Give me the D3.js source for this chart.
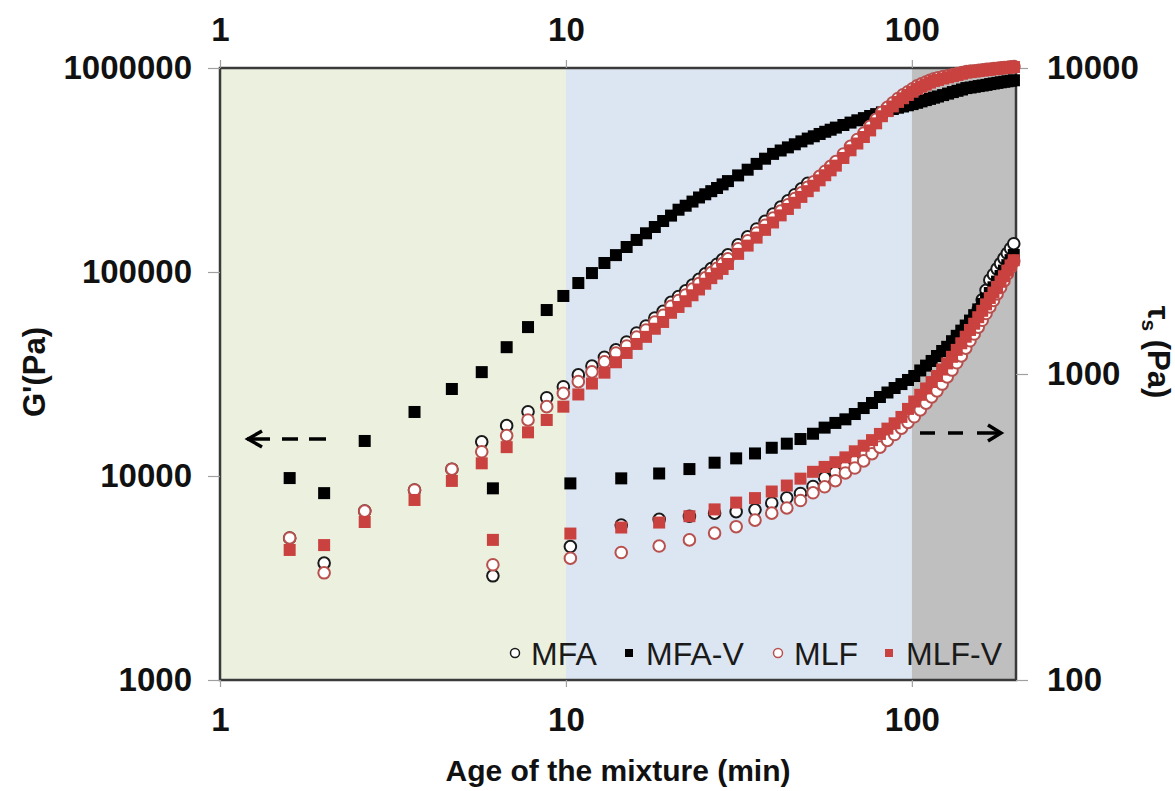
<!DOCTYPE html>
<html><head><meta charset="utf-8">
<script src="https://cdn.jsdelivr.net/npm/d3@7"></script>
<style>body{margin:0;background:#fff}text{font-family:"Liberation Sans",Arial,sans-serif}</style>
</head><body>
<svg id="c" width="1175" height="791"></svg>
<script>
// ---- data ----
const xTicks = [1, 10, 100];
const gTicks = [1000, 10000, 100000, 1000000];
const tauTicks = [100, 1000, 10000];
const legendLabels = ["MFA", "MFA-V", "MLF", "MLF-V"];
const zoneBounds = [[1, 10], [10, 100], [100, 200]];
const zoneColors = ["#ebf1de", "#dce6f2", "#bfbfbf"];

// shear stress (right axis) sampling times, min
const tauTimes = [2.0, 6.15, 10.3, 14.45, 18.6, 22.75, 26.9, 31.05, 35.2, 39.35, 43.5, 47.65, 51.8, 55.95, 60.1, 64.25, 68.4, 72.55, 76.7, 80.85, 85.0, 89.15, 93.3, 97.45, 101.6, 105.75, 109.9, 114.05, 118.2, 122.35, 126.5, 130.65, 134.8, 138.95, 143.1, 147.25, 151.4, 155.55, 159.7, 163.85, 168.0, 172.15, 176.3, 180.45, 184.6, 188.75, 192.9, 197.05];
const mfaTau = [241, 219, 273, 321, 335, 343, 351, 355, 360, 379, 394, 407, 429, 458, 477, 498, 519, 544, 569, 595, 623, 651, 684, 719, 754, 791, 828, 866, 914, 965, 1020, 1087, 1152, 1219, 1296, 1400, 1505, 1624, 1747, 1877, 2029, 2115, 2206, 2295, 2388, 2480, 2571, 2666];
const mfavTau = [408, 423, 439, 456, 473, 489, 513, 530, 550, 574, 592, 613, 638, 668, 692, 711, 740, 774, 804, 841, 870, 900, 927, 956, 985, 1027, 1065, 1103, 1145, 1189, 1227, 1280, 1333, 1386, 1440, 1495, 1557, 1626, 1695, 1767, 1839, 1920, 2004, 2091, 2177, 2268, 2356, 2448];
const mlfTau = [224, 238, 250, 261, 274, 287, 302, 317, 333, 351, 365, 386, 409, 428, 448, 475, 493, 520, 549, 577, 607, 634, 665, 695, 725, 763, 803, 842, 881, 927, 978, 1030, 1088, 1146, 1214, 1284, 1351, 1423, 1498, 1576, 1656, 1739, 1827, 1917, 2014, 2123, 2227, 2337];
const mlfvTau = [276, 287, 301, 315, 327, 343, 361, 380, 393, 413, 432, 455, 479, 497, 515, 534, 559, 583, 608, 637, 663, 690, 724, 769, 813, 855, 897, 941, 985, 1034, 1083, 1138, 1199, 1260, 1324, 1393, 1460, 1533, 1609, 1689, 1772, 1846, 1926, 2006, 2087, 2177, 2264, 2354];

// storage modulus (left axis) sampling times, min
const gTimes = [1.59, 2.62, 3.65, 4.68, 5.71, 6.74, 7.77, 8.80, 9.83, 10.86, 11.89, 12.92, 13.95, 14.98, 16.01, 17.04, 18.07, 19.10, 20.13, 21.16, 22.19, 23.22, 24.25, 25.28, 26.31, 27.34, 28.37, 29.40, 31.46, 33.52, 35.58, 37.64, 39.70, 41.76, 43.82, 45.88, 47.94, 50.00, 52.06, 54.12, 56.18, 58.24, 60.30, 63.39, 66.48, 69.57, 72.66, 75.75, 78.84, 81.93, 85.02, 88.11, 91.20, 94.29, 97.38, 100.47, 103.56, 106.65, 109.74, 112.83, 115.92, 119.01, 123.13, 127.25, 131.37, 135.49, 139.61, 143.73, 147.85, 151.97, 156.09, 160.21, 164.33, 168.45, 172.57, 176.69, 180.81, 184.93, 189.05, 193.17, 197.29];
const mfaG = [4970, 6730, 8540, 10800, 14700, 17650, 20660, 24200, 27400, 31300, 34600, 38200, 41500, 45400, 50230, 54360, 59500, 64110, 71040, 75850, 80800, 86270, 91970, 97880, 104000, 109200, 115000, 121400, 135900, 148800, 162500, 177200, 192400, 208000, 223400, 239300, 255500, 272500];
const mfavG = [9770, 14850, 20600, 26700, 32300, 42800, 53700, 65100, 76300, 88300, 98800, 110700, 121000, 132600, 143600, 154800, 166200, 177800, 189000, 202000, 211300, 221400, 231900, 240400, 249000, 258100, 268800, 279000, 297500, 317300, 338800, 359300, 379300, 394100, 408200, 422700, 436800, 450800, 462700, 474900, 486900, 498300, 510300, 525500, 540000, 554100, 568000, 581700, 594300, 605900, 618300, 629500, 638900, 647600, 656500, 665300, 675200, 686000, 696100, 705600, 715300, 725000, 736600, 749100, 762000, 773100, 784600, 797200, 802500, 808900, 815400, 820800, 826600, 834000, 839600, 845400, 851100, 856000, 860700, 865700, 870500];
const mlfG = [4970, 6730, 8540, 10800, 13150, 15780, 18820, 21870, 25400, 29000, 32400, 36300, 40100, 43400, 48000, 52000, 56900, 61300, 67900, 72500, 77200, 82500, 87900, 93600, 99400, 104400, 109900, 116000, 129900, 142200, 155300, 169400, 183900, 198800, 213600, 228800, 244300, 260500, 277100, 294500, 311900, 329600, 347600, 378900, 413300, 446100, 480100, 517200, 560500, 607200, 641900, 675200, 708900, 738100, 764300, 791600, 817300, 836000, 853200, 871600, 886400, 894600, 906900, 918000, 928300, 938600, 949500, 960200, 965600, 970000, 975400, 979900, 984300, 988800, 993300, 997700, 1001000, 1004600, 1009000, 1012500, 1016000];
const mlfvG = [4340, 5950, 7630, 9460, 11540, 13850, 16370, 18820, 21870, 25100, 28400, 32100, 36100, 40100, 44400, 48100, 52700, 56900, 63100, 67400, 71900, 76900, 82100, 87600, 93300, 98200, 103500, 109500, 122700, 134700, 147400, 160900, 174900, 189500, 203700, 218500, 233400, 249000, 264900, 281500, 298100, 315000, 332200, 362200, 395000, 426400, 458900, 494300, 535700, 580400, 615000, 648200, 682000, 710800, 737500, 764700, 790300, 810100, 828500, 848100, 864200, 874000, 887900, 900600, 912500, 924500, 937200, 948700, 955000, 960300, 966600, 972100, 976400, 981900, 987300, 991700, 996000, 999600, 1004000, 1007400, 1011000];

// ---- chart ----
const svg = d3.select('#c');
const X0 = 220, X1 = 1016, Y0 = 68, Y1 = 680;
const x = d3.scaleLog().domain([1, 200]).range([X0, X1]);
const yL = d3.scaleLog().domain([1000, 1e6]).range([Y1, Y0]);
const yR = d3.scaleLog().domain([100, 1e4]).range([Y1, Y0]);

svg.selectAll('rect.zone').data(zoneBounds).enter().append('rect')
  .attr('x', d => x(d[0])).attr('width', d => x(d[1]) - x(d[0]))
  .attr('y', Y0).attr('height', Y1 - Y0)
  .attr('fill', (d, i) => zoneColors[i]);

svg.append('rect').attr('x', X0).attr('y', Y0).attr('width', X1 - X0).attr('height', Y1 - Y0)
  .attr('fill', 'none').attr('stroke', '#3a3a3a').attr('stroke-width', 2.5);

function styleAxis(g) {
  g.select('.domain').remove();
  g.selectAll('.tick line').attr('stroke', '#a0a0a0').attr('stroke-width', 1.2);
  g.selectAll('.tick text').attr('font-size', 33).attr('font-weight', 'bold').attr('fill', '#111')
    .style('font-family', '"Liberation Sans", Arial, sans-serif');
}
const fmt = d => String(d);
svg.append('g').attr('transform', `translate(${X0},0)`)
  .call(d3.axisLeft(yL).tickValues(gTicks).tickFormat(fmt).tickSize(12).tickPadding(16)).call(styleAxis);
svg.append('g').attr('transform', `translate(${X1},0)`)
  .call(d3.axisRight(yR).tickValues(tauTicks).tickFormat(fmt).tickSize(12).tickPadding(19)).call(styleAxis);
svg.append('g').attr('transform', `translate(0,${Y0})`)
  .call(d3.axisTop(x).tickValues(xTicks).tickFormat(fmt).tickSize(8).tickPadding(19)).call(styleAxis);
svg.append('g').attr('transform', `translate(0,${Y1})`)
  .call(d3.axisBottom(x).tickValues(xTicks).tickFormat(fmt).tickSize(7).tickPadding(21)).call(styleAxis);

// axis titles
svg.append('text').attr('x', 618).attr('y', 781).attr('text-anchor', 'middle')
  .attr('font-size', 30).attr('font-weight', 'bold').attr('fill', '#111').text('Age of the mixture (min)');
svg.append('text').attr('transform', 'translate(45,372) rotate(-90)').attr('text-anchor', 'middle')
  .attr('font-size', 31).attr('font-weight', 'bold').attr('fill', '#111').text("G'(Pa)");
const rt = svg.append('text').attr('transform', 'translate(1148,352) rotate(90)').attr('text-anchor', 'middle')
  .attr('font-size', 31).attr('font-weight', 'bold').attr('fill', '#111');
rt.append('tspan').text('τ');
rt.append('tspan').attr('font-size', 21).attr('dy', 6).text('s');
rt.append('tspan').attr('dy', -6).text(' (Pa)');

// series
const RED = '#c9423f';
function circles(times, vals, y, stroke) {
  svg.append('g').selectAll('circle').data(vals).enter().append('circle')
    .attr('cx', (d, i) => x(times[i])).attr('cy', d => y(d)).attr('r', 5.8)
    .attr('fill', '#fff').attr('stroke', stroke).attr('stroke-width', 2);
}
function squares(times, vals, y, fill) {
  const s = 12;
  svg.append('g').selectAll('rect').data(vals).enter().append('rect')
    .attr('x', (d, i) => x(times[i]) - s / 2).attr('y', d => y(d) - s / 2)
    .attr('width', s).attr('height', s).attr('fill', fill);
}
circles(gTimes, mfaG, yL, '#1a1a1a');
circles(tauTimes, mfaTau, yR, '#1a1a1a');
squares(gTimes, mfavG, yL, '#000');
squares(tauTimes, mfavTau, yR, '#000');
circles(gTimes, mlfG, yL, '#b8504e');
circles(tauTimes, mlfTau, yR, '#b8504e');
squares(gTimes, mlfvG, yL, RED);
squares(tauTimes, mlfvTau, yR, RED);

// direction arrows
const arrow = svg.append('g').attr('stroke', '#000').attr('stroke-width', 3.5).attr('fill', 'none');
arrow.append('path').attr('d', 'M247,439 H270 M282,439 H298 M309,439 H326');
arrow.append('path').attr('d', 'M262,431 L248,439 L262,447');
arrow.append('path').attr('d', 'M920,433 H935 M948,433 H963 M977,433 H1000');
arrow.append('path').attr('d', 'M988,425 L1001,433 L988,441');

// legend
const legX = [515, 629, 778, 889];
const legText = [531, 646, 794, 906];
const legY = 653;
legendLabels.forEach((lab, i) => {
  if (i % 2 === 0) {
    svg.append('circle').attr('cx', legX[i]).attr('cy', legY).attr('r', 4.5).attr('fill', '#fff')
      .attr('stroke', i === 0 ? '#1a1a1a' : '#b8504e').attr('stroke-width', 1.5);
  } else {
    svg.append('rect').attr('x', legX[i] - 4).attr('y', legY - 4).attr('width', 8).attr('height', 8)
      .attr('fill', i === 1 ? '#000' : RED);
  }
  svg.append('text').attr('x', legText[i]).attr('y', legY + 11.5).attr('font-size', 32)
    .attr('fill', '#1a1a1a').text(lab);
});
</script>
</body></html>
